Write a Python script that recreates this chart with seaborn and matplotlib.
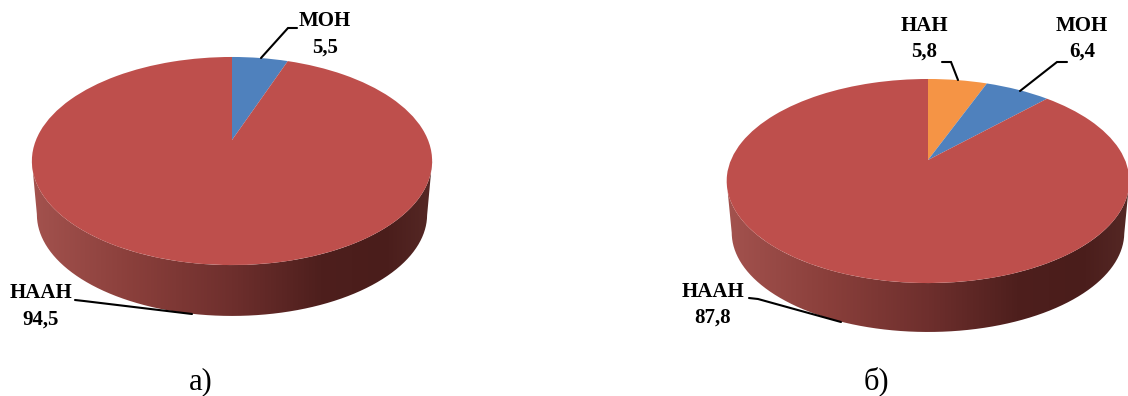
import numpy as np
import matplotlib
matplotlib.use('Agg')
import matplotlib.pyplot as plt
import seaborn as sns
from matplotlib.colors import LinearSegmentedColormap
from matplotlib.patches import PathPatch
from matplotlib.path import Path
from matplotlib.transforms import Transform

# data
labels_a = ['МОН', 'НААН']
values_a = [5.5, 94.5]
labels_b = ['НАН', 'МОН', 'НААН']
values_b = [5.8, 6.4, 87.8]

colours = {'МОН': '#4F81BD', 'НААН': '#BE4F4C', 'НАН': '#F59445'}
side_colours = [(0, '#A3524E'), (0.25, '#8A3F3B'), (0.5, '#6E2F2D'),
                (0.72, '#4E1F1D'), (0.88, '#4A1D1B'), (1, '#552825')]


class Tilted(Transform):
    # unit pie -> pixels, with the perspective of the tilted 3D pie
    input_dims = 2
    output_dims = 2

    def __init__(self, cx, cy, a, b, k, drop=0.0):
        super().__init__()
        self.cx, self.cy, self.a, self.b, self.k, self.drop = cx, cy, a, b, k, drop

    def transform_non_affine(self, xy):
        xy = np.asarray(xy, dtype=float)
        w = 1 + self.k * xy[:, 1]
        return np.column_stack([self.cx + self.a * xy[:, 0] / w,
                                self.cy + self.drop - self.b * xy[:, 1] / w])


def draw_pie(ax, labels, values, cx, cy, a, b, k, drop, shrink):
    top = Tilted(cx, cy, a, b, k)
    base = Tilted(cx, cy, a * shrink, b * shrink, k, drop)

    # side wall: from the widest point of the top, round the base and back
    t = np.linspace(0, 2 * np.pi, 721)
    circle = np.column_stack([np.cos(t), np.sin(t)])
    top_pts = top.transform(circle)
    base_pts = base.transform(circle)
    left = top_pts[:, 0].argmin()
    right = top_pts[:, 0].argmax()
    outline = np.vstack([top_pts[left:right + 1], base_pts[right:left - 1:-1], top_pts[left:left + 1]])

    x0, x1 = top_pts[:, 0].min(), top_pts[:, 0].max()
    y0, y1 = top_pts[:, 1].min(), base_pts[:, 1].max()
    cmap = LinearSegmentedColormap.from_list('side', side_colours)
    grad = ax.imshow(np.linspace(0, 1, 256)[None, :], cmap=cmap, aspect='auto',
                     extent=(x0, x1, y1, y0), zorder=1)
    clip = PathPatch(Path(outline), transform=ax.transData, fc='none', ec='none')
    ax.add_patch(clip)
    grad.set_clip_path(clip)

    wedges, _ = ax.pie(values, colors=[colours[n] for n in labels], startangle=90,
                       counterclock=False, radius=1, frame=True,
                       wedgeprops={'linewidth': 0})
    for w in wedges:
        w.set_transform(top + ax.transData)
        w.set_zorder(2)
        w.set_clip_on(False)


def label(ax, name, value, x, y, gap, line):
    ax.text(x, y, name, ha='center', va='center', fontsize=15, fontweight='bold', color='black')
    ax.text(x, y + gap, value, ha='center', va='center', fontsize=15, fontweight='bold', color='black')
    ax.plot([p[0] for p in line], [p[1] for p in line], color='black', lw=1.5, zorder=3,
            solid_joinstyle='miter', scalex=False, scaley=False)


sns.set_theme(style='white')
plt.rcParams['font.family'] = ['Liberation Serif', 'DejaVu Serif']

fig = plt.figure(figsize=(11.28, 3.96), dpi=100)
ax = fig.add_axes([0, 0, 1, 1])

draw_pie(ax, labels_a, values_a, 232, 140, 196, 99.8, 0.202, 54, 0.975)
draw_pie(ax, labels_b, values_b, 928, 160, 197, 97.7, 0.206, 52, 0.975)

ax.set_aspect('auto')
ax.set_xlim(0, 1128)
ax.set_ylim(396, 0)
ax.axis('off')

label(ax, 'МОН', '5,5', 325, 21, 27, [(261, 58), (288, 28), (297, 28)])
label(ax, 'НААН', '94,5', 41, 293, 27, [(75, 300), (84, 301), (192, 314)])
label(ax, 'НАН', '5,8', 924, 26, 26, [(942, 62), (951, 62), (958, 80)])
label(ax, 'МОН', '6,4', 1082, 26, 26, [(1020, 91), (1057, 62), (1067, 62)])
label(ax, 'НААН', '87,8', 713, 292, 26, [(749, 298), (758, 299), (841, 322)])

ax.text(201, 382, 'а)', ha='center', va='center', fontsize=22, color='black')
ax.text(876, 381, 'б)', ha='center', va='center', fontsize=22, color='black')

fig.savefig('out.png', dpi=100)
